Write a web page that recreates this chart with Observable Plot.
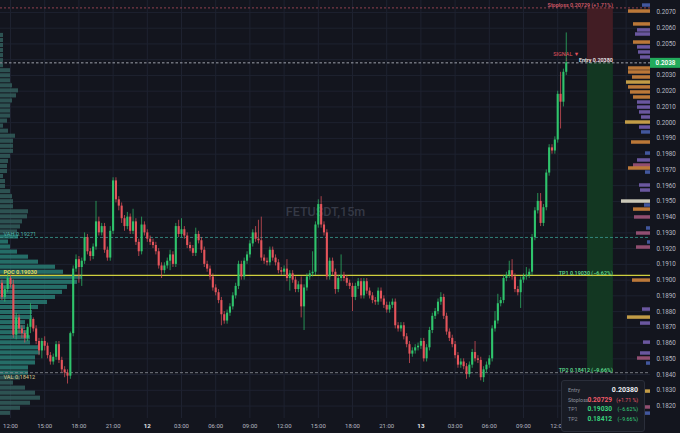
<!DOCTYPE html>
<html><head><meta charset="utf-8">
<script src="https://cdn.jsdelivr.net/npm/d3@7"></script>
<script src="https://cdn.jsdelivr.net/npm/@observablehq/plot@0.6"></script>
<style>
html,body{margin:0;padding:0;background:#13151e;}
#wrap{position:relative;width:680px;height:433px;overflow:hidden;font-family:Roboto,"Noto Sans",sans-serif;}
#chart svg{display:block;}
#info{position:absolute;left:561px;top:380px;width:84px;height:52px;box-sizing:border-box;background:#181b24;border:1px solid #2a2e3a;border-radius:3px;padding-top:5px;}
#info .row{position:relative;height:9.6px;}
#info span{position:absolute;top:0;line-height:9.6px;white-space:nowrap;}
#info .lab{left:6px;font-size:5.3px;color:#8b909c;}
#info .val{right:32px;font-size:6.6px;font-weight:700;}
#info .val.e{right:6px;color:#eceef2;font-size:7px;}
#info .pct{right:6px;font-size:5.2px;}
#info .r{color:#ef5a68;}
#info .g{color:#37d27c;}
</style>
</head><body>
<div id="wrap"><div id="chart"></div><div id="info"></div></div>
<script>
// ---------- data ----------
const symbol = "FETUSDT,15m";
const firstTime = "2025-11-11T11:15:00Z";   // first 15m candle
const firstOpen = 0.1898;
const closes = [
.1889,.1894,.1901,.1897,.1865,.1876,.1869,.1866,.1863,.1870,
.1875,.1869,.1861,.1855,.1861,.1858,.1852,.1848,.1851,.1859,
.1849,.1843,.1841,.1839,.1866,.1907,.1913,.1908,.1912,.1927,
.1918,.1915,.1921,.1937,.1930,.1934,.1919,.1914,.1931,.1963,
.1951,.1947,.1939,.1934,.1940,.1931,.1937,.1924,.1918,.1935,
.1930,.1926,.1924,.1922,.1918,.1909,.1906,.1909,.1912,.1916,
.1910,.1934,.1929,.1932,.1928,.1922,.1920,.1917,.1929,.1925,
.1919,.1910,.1907,.1902,.1895,.1892,.1887,.1878,.1874,.1879,
.1883,.1890,.1896,.1910,.1902,.1912,.1916,.1923,.1930,.1926,
.1925,.1914,.1912,.1911,.1919,.1914,.1911,.1906,.1905,.1907,
.1901,.1904,.1900,.1894,.1897,.1883,.1895,.1902,.1904,.1905,
.1935,.1948,.1935,.1930,.1902,.1912,.1905,.1894,.1901,.1903,
.1901,.1898,.1896,.1889,.1896,.1899,.1890,.1899,.1893,.1890,
.1887,.1886,.1893,.1888,.1884,.1881,.1884,.1886,.1871,.1869,
.1871,.1864,.1859,.1853,.1855,.1857,.1858,.1861,.1850,.1857,
.1868,.1877,.1880,.1886,.1889,.1877,.1867,.1863,.1859,.1852,
.1846,.1848,.1845,.1840,.1846,.1854,.1850,.1849,.1838,.1843,
.1846,.1850,.1869,.1874,.1885,.1887,.1901,.1903,.1906,.1902,
.1894,.1892,.1900,.1902,.1903,.1905,.1927,.1944,.1950,.1936,
.1946,.1968,.1984,.1982,.1989,.2018,.2013,.2032,.2038];
const highs = [
.1900,.1896,.1905,.1903,.1900,.1879,.1878,.1871,.1868,.1872,
.1885,.1876,.1871,.1863,.1863,.1864,.1860,.1854,.1853,.1861,
.1861,.1851,.1845,.1843,.1867,.1909,.1916,.1915,.1914,.1930,
.1929,.1920,.1923,.1950,.1940,.1936,.1936,.1921,.1934,.1965,
.1965,.1953,.1949,.1941,.1943,.1942,.1945,.1939,.1926,.1940,
.1937,.1932,.1928,.1926,.1924,.1920,.1911,.1911,.1914,.1919,
.1918,.1936,.1938,.1939,.1934,.1930,.1924,.1922,.1933,.1931,
.1927,.1921,.1912,.1909,.1904,.1897,.1894,.1889,.1880,.1881,
.1885,.1892,.1898,.1912,.1912,.1914,.1918,.1925,.1932,.1934,
.1938,.1940,.1916,.1914,.1921,.1921,.1916,.1913,.1908,.1909,
.1913,.1906,.1906,.1902,.1899,.1902,.1897,.1904,.1906,.1918,
.1937,.1951,.1953,.1937,.1932,.1914,.1914,.1907,.1903,.1916,
.1905,.1903,.1900,.1898,.1898,.1901,.1901,.1901,.1901,.1895,
.1892,.1889,.1895,.1895,.1890,.1886,.1886,.1888,.1888,.1873,
.1873,.1873,.1866,.1861,.1857,.1859,.1860,.1863,.1863,.1859,
.1870,.1879,.1882,.1888,.1892,.1891,.1879,.1869,.1865,.1861,
.1854,.1850,.1850,.1847,.1848,.1856,.1861,.1852,.1851,.1845,
.1848,.1852,.1871,.1880,.1891,.1889,.1903,.1905,.1912,.1913,
.1904,.1896,.1902,.1904,.1908,.1907,.1929,.1946,.1955,.1955,
.1948,.1970,.1986,.1986,.1991,.2020,.2032,.2034,.2057];
const lows = [
.1887,.1886,.1892,.1895,.1863,.1862,.1866,.1863,.1860,.1861,
.1866,.1867,.1859,.1852,.1850,.1855,.1850,.1846,.1846,.1849,
.1847,.1841,.1838,.1834,.1837,.1864,.1905,.1898,.1896,.1910,
.1916,.1912,.1913,.1919,.1928,.1928,.1917,.1912,.1912,.1929,
.1949,.1944,.1936,.1931,.1932,.1929,.1929,.1922,.1915,.1916,
.1928,.1924,.1922,.1920,.1916,.1907,.1901,.1904,.1907,.1906,
.1908,.1908,.1927,.1927,.1926,.1920,.1918,.1915,.1915,.1923,
.1917,.1908,.1905,.1900,.1893,.1890,.1885,.1871,.1872,.1872,
.1877,.1881,.1888,.1894,.1900,.1900,.1910,.1914,.1921,.1924,
.1923,.1912,.1910,.1909,.1909,.1912,.1909,.1904,.1903,.1903,
.1899,.1893,.1898,.1892,.1892,.1876,.1868,.1893,.1900,.1902,
.1903,.1933,.1933,.1928,.1900,.1900,.1903,.1891,.1892,.1899,
.1899,.1896,.1894,.1880,.1887,.1894,.1888,.1888,.1891,.1888,
.1885,.1884,.1884,.1886,.1882,.1879,.1879,.1882,.1869,.1867,
.1867,.1862,.1857,.1847,.1851,.1853,.1855,.1856,.1848,.1848,
.1855,.1866,.1875,.1878,.1884,.1875,.1865,.1861,.1857,.1850,
.1844,.1844,.1843,.1837,.1838,.1844,.1848,.1847,.1836,.1835,
.1841,.1844,.1848,.1867,.1872,.1883,.1885,.1899,.1901,.1900,
.1892,.1890,.1882,.1898,.1900,.1901,.1903,.1925,.1942,.1934,
.1934,.1944,.1966,.1980,.1980,.1987,.1996,.2010,.2030];

// trade levels
const entry = 0.20380, stoploss = 0.20729, tp1 = 0.19030, tp2 = 0.18412;
const vah = 0.19271, poc = 0.19030, val = 0.18412;
const zoneTimes = ["2025-11-13T14:37:00Z", "2025-11-13T16:53:00Z"];

// left session volume profile (relative volume per price bin, top to bottom)
const profileTopPrice = 0.20554, profileBin = 0.00032;
const profileVol = [3,3,3,3,3,3,3,10,10,10, 12,18,16,12,10,10,10,7,3,8,
 15,13,13,13,10,8,7,7,3,5, 5,10,12,13,13,28,27,22,20,17,
 18,8,10,17,28,38,55,63,82,77, 67,62,55,47,38,32,32,25,25,27,
 30,30,40,40,35,35,28,28,20,13, 25,35,40,30,20,10];

// right-hand visible range profile
const rpPrice = [0.20744,0.20706,0.20624,0.20586,0.20560,0.20509,0.20478,0.20446,0.20414,0.20344,
 0.20319,0.20287,0.20255,0.20224,0.20192,0.20160,0.20128,0.20096,0.20065,0.20033,
 0.20001,0.19969,0.19938,0.19874,0.19804,0.19760,0.19728,0.19709,0.19683,0.19601,
 0.19569,0.19499,0.19474,0.19448,0.19398,0.19328,0.19296,0.19239,0.19207,0.18997,
 0.18813,0.18762,0.18724,0.18603,0.18534,0.18502,0.18470,0.18292,0.18191,0.18152];
const rpVol = [8,22,17,13,15,17,13,12,10,22, 22,18,24,22,20,17,13,13,11,9,
 25,11,9,19,5,13,17,22,5,11, 10,29,6,17,16,4,14,3,14,18,
 8,23,10,7,10,13,4,6,6,6];
const rpKind = ["blue","orange","orange","purple","purple","orange","purple","purple","purple","orange",
 "orange","orange","yellow","orange","orange","orange","purple","purple","purple","purple",
 "yellow","purple","blue","orange","blue","purple","pink","orange","blue","purple",
 "purple","cream","blue","orange","pink","blue","pink","blue","pink","orange",
 "purple","yellow","purple","purple","purple","pink","blue","yellow","pink","blue"];

const yTicks = [0.2070,0.2060,0.2050,0.2040,0.2030,0.2020,0.2010,0.2000,0.1990,0.1980,0.1970,0.1960,0.1950,
 0.1940,0.1930,0.1920,0.1910,0.1900,0.1890,0.1880,0.1870,0.1860,0.1850,0.1840,0.1830,0.1820];
const xTickTimes = ["2025-11-11T12:00Z","2025-11-11T15:00Z","2025-11-11T18:00Z","2025-11-11T21:00Z","2025-11-12T00:00Z",
 "2025-11-12T03:00Z","2025-11-12T06:00Z","2025-11-12T09:00Z","2025-11-12T12:00Z","2025-11-12T15:00Z","2025-11-12T18:00Z",
 "2025-11-12T21:00Z","2025-11-13T00:00Z","2025-11-13T03:00Z","2025-11-13T06:00Z","2025-11-13T09:00Z","2025-11-13T12:00Z",
 "2025-11-13T15:00Z","2025-11-13T18:00Z"];
const xTickLabels = ["12:00","15:00","18:00","21:00","12","03:00","06:00","09:00","12:00","15:00","18:00",
 "21:00","13","03:00","06:00","09:00","12:00","15:00","18:00"];

// ---------- build ----------
const xDomain = [new Date("2025-11-11T11:07:22Z"), new Date("2025-11-13T20:08:25Z")];
const yDomain = [0.18121, 0.20776];
const tagEnd = new Date("2025-11-13T22:50:00Z");
const volUnitMs = 3600000 / 11.4;  // one volume unit in time width
const UP = "#2fc46c", DOWN = "#e5545b";
const kindColor = {orange:"#d98a3d", yellow:"#e2b44e", purple:"#7a63b6", pink:"#a7587f", blue:"#4b63b4", cream:"#ebe7d2"};

const t0 = Date.parse(firstTime), step = 15*60*1000;
const candles = closes.map((c,i) => {
  const o = i === 0 ? firstOpen : closes[i-1];
  return {t: new Date(t0 + i*step), o, c, h: Math.max(highs[i],o,c), l: Math.min(lows[i],o,c),
          col: c >= o ? UP : DOWN};
});
const last = candles[candles.length-1];

const profile = profileVol.map((v,k) => {
  const p = profileTopPrice - k*profileBin;
  return {p, v, col: (p <= vah + 0.0001 && p >= val - 0.0001) ? "#2a8379" : "#34625f"};
});
const rp = rpPrice.map((p,i) => ({p, v: rpVol[i], col: kindColor[rpKind[i]]}));
const xt = xTickTimes.map((s,i) => ({t: new Date(s), label: xTickLabels[i], day: !xTickLabels[i].includes(":")}));
const z0 = new Date(zoneTimes[0]), z1 = new Date(zoneTimes[1]);
const f5 = d3.format(".5f"), pct = v => d3.format("+.2f")((v/entry - 1)*100);
// price labels hidden behind the live-price tag are not drawn
const yLabelTicks = yTicks.filter(t => Math.abs(t - entry) > 0.0005);

const rightLabels = [
  {p: stoploss, text: `Stoploss ${f5(stoploss)} (${pct(stoploss)}%)`, fill: "#d45a68", dy: -1},
  {p: entry, text: `Entry ${f5(entry)}`, fill: "#e8e8ea", dy: -1},
  {p: tp1, text: `TP1 ${f5(tp1)} (${pct(tp1)}%)`, fill: "#5bd68c", dy: -2},
  {p: tp2, text: `TP2 ${f5(tp2)} (${pct(tp2)}%)`, fill: "#5bd68c", dy: -1.5}
];

const chart = Plot.plot({
  width: 680, height: 433,
  marginLeft: 0, marginRight: 30, marginTop: 0, marginBottom: 15,
  style: {background: "#13151e", color: "#b6b9c2", fontFamily: "Roboto, 'Noto Sans', sans-serif", overflow: "visible"},
  x: {type: "utc", domain: xDomain, axis: null},
  y: {domain: yDomain, axis: null},
  color: {type: "identity"},
  marks: [
    Plot.ruleX(xt, {x: "t", stroke: "#1e2230", strokeWidth: 1}),
    Plot.ruleY(yTicks, {stroke: "#1e2230", strokeWidth: 1}),
    Plot.text([symbol], {frameAnchor: "middle", dy: 2, fontSize: 12.5, fill: "#353946", fontWeight: 500}),
    // left volume profile
    Plot.rect(profile, {x1: () => xDomain[0], x2: d => new Date(+xDomain[0] + d.v*volUnitMs),
      y1: d => d.p - 0.00013, y2: d => d.p + 0.00013, fill: "col", fillOpacity: 0.8}),
    // right volume profile
    Plot.rect(rp, {x1: d => new Date(+xDomain[1] - d.v*volUnitMs), x2: () => xDomain[1],
      y1: d => d.p - 0.00011, y2: d => d.p + 0.00011, fill: "col", fillOpacity: 0.85}),
    // trade zones
    Plot.rect([{a: entry, b: stoploss, col: "#421d24"}, {a: tp2, b: entry, col: "#133722"}],
      {x1: () => z0, x2: () => z1, y1: "a", y2: "b", fill: "col"}),
    // level lines
    Plot.ruleY([stoploss], {stroke: "#b04c5c", strokeWidth: 0.8, strokeDasharray: "2,2"}),
    Plot.ruleY([vah], {stroke: "#3a9c92", strokeWidth: 0.8, strokeDasharray: "3,2"}),
    Plot.ruleY([val], {stroke: "#8e9098", strokeWidth: 0.8, strokeDasharray: "3,2"}),
    Plot.ruleY([poc], {stroke: "#cfcf3e", strokeWidth: 1.3}),
    Plot.ruleY([entry], {stroke: "#c3c6cf", strokeWidth: 0.8, strokeDasharray: "2.5,2"}),
    // candles
    Plot.ruleX(candles, {x: "t", y1: "l", y2: "h", stroke: "col", strokeWidth: 0.7}),
    Plot.ruleX(candles, {x: "t", y1: "o", y2: "c", stroke: "col", strokeWidth: 2.1}),
    // level labels (left)
    Plot.text([{p: vah, t: `VAH ${f5(vah)}`}], {x: () => xDomain[0], y: "p", text: "t", textAnchor: "start", dx: 3, dy: -1.5, lineAnchor: "bottom", fill: "#4fb4a8", fontSize: 5.6}),
    Plot.text([{p: poc, t: `POC ${f5(poc)}`}], {x: () => xDomain[0], y: "p", text: "t", textAnchor: "start", dx: 3, dy: -1.5, lineAnchor: "bottom", fill: "#e2d65a", fontSize: 5.6, fontWeight: 700}),
    Plot.text([{p: val, t: `VAL ${f5(val)}`}], {x: () => xDomain[0], y: "p", text: "t", textAnchor: "start", dx: 3, dy: 2, lineAnchor: "top", fill: "#d9cc8f", fontSize: 5.6}),
    // trade labels (right)
    Plot.text(rightLabels, {x: () => z1, y: "p", text: "text", fill: "fill", dy: "dy", textAnchor: "end", lineAnchor: "bottom", fontSize: 5.4, fontWeight: 600}),
    // signal
    Plot.text([last], {x: "t", y: () => entry, text: () => "SIGNAL ▼", dy: -8.5, fill: "#e2535f", fontSize: 5.5}),
    Plot.text([last], {x: "t", y: () => entry, text: () => "↓", dy: -3.5, fill: "#e2535f", fontSize: 5}),
    // price axis
    Plot.axisY({anchor: "right", ticks: yLabelTicks, tickFormat: d3.format(".4f"), tickSize: 0, tickPadding: 6, fontSize: 6.3, label: null}),
    Plot.ruleY([entry], {x1: () => xDomain[1], x2: () => tagEnd, stroke: "#22ab5c", strokeWidth: 10}),
    Plot.text([entry], {x: () => xDomain[1], y: d => d, text: d => d3.format(".4f")(d), dx: 15, fill: "#ffffff", fontSize: 6.3, fontWeight: 600}),
    // time axis
    Plot.text(xt.filter(d => !d.day), {x: "t", text: "label", frameAnchor: "bottom", dy: 9, fill: "#b6b9c2", fontSize: 6}),
    Plot.text(xt.filter(d => d.day), {x: "t", text: "label", frameAnchor: "bottom", dy: 9, fill: "#e4e6ea", fontSize: 6.2, fontWeight: 700})
  ]
});
document.getElementById("chart").append(chart);

// info panel
const rows = [
  {lab: "Entry", val: f5(entry), pct: null, cls: "e"},
  {lab: "Stoploss", val: f5(stoploss), pct: `(${pct(stoploss)} %)`, cls: "r"},
  {lab: "TP1", val: f5(tp1), pct: `(${pct(tp1)}%)`, cls: "g"},
  {lab: "TP2", val: f5(tp2), pct: `(${pct(tp2)}%)`, cls: "g"}
];
const info = d3.select("#info");
rows.forEach(r => {
  const row = info.append("div").attr("class", "row");
  row.append("span").attr("class", "lab").text(r.lab);
  row.append("span").attr("class", "val " + r.cls).text(r.val);
  if (r.pct) row.append("span").attr("class", "pct " + r.cls).text(r.pct);
});
</script>
</body></html>
